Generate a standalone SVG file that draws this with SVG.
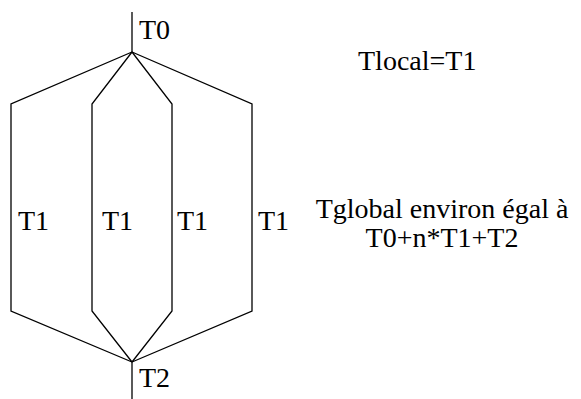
<svg xmlns="http://www.w3.org/2000/svg" width="581" height="399" viewBox="0 0 581 399">
<style>
.ln{fill:none;stroke:#000;stroke-width:1.3;stroke-linejoin:miter}
</style>
<rect width="581" height="399" fill="#fff"/>
<g id="connectors">
<line class="ln" x1="132" y1="12" x2="132" y2="52"/>
<line class="ln" x1="132" y1="362" x2="132" y2="399"/>
<polyline class="ln" points="132,52 11,104 11,311 132,362"/>
<polyline class="ln" points="132,52 92,104 92,311 132,362"/>
<polyline class="ln" points="132,52 172,104 172,311 132,362"/>
<polyline class="ln" points="132,52 252,104 252,311 132,362"/>
</g>
<g font-family="Liberation Serif, DejaVu Serif, serif" font-size="28" fill="#000">
<g id="T0"><text x="139" y="39">T0</text></g>
<g id="T2"><text x="139" y="387">T2</text></g>
<g id="T1a"><text x="18" y="230">T1</text></g>
<g id="T1b"><text x="102" y="230">T1</text></g>
<g id="T1c"><text x="177" y="230">T1</text></g>
<g id="T1d"><text x="258" y="230">T1</text></g>
<g id="tlocal"><text x="358" y="70">Tlocal=T1</text></g>
<g id="tglobal"><text text-anchor="middle" x="442" y="218">Tglobal environ égal à</text>
<text text-anchor="middle" x="442" y="247">T0+n*T1+T2</text></g>
</g>
</svg>
